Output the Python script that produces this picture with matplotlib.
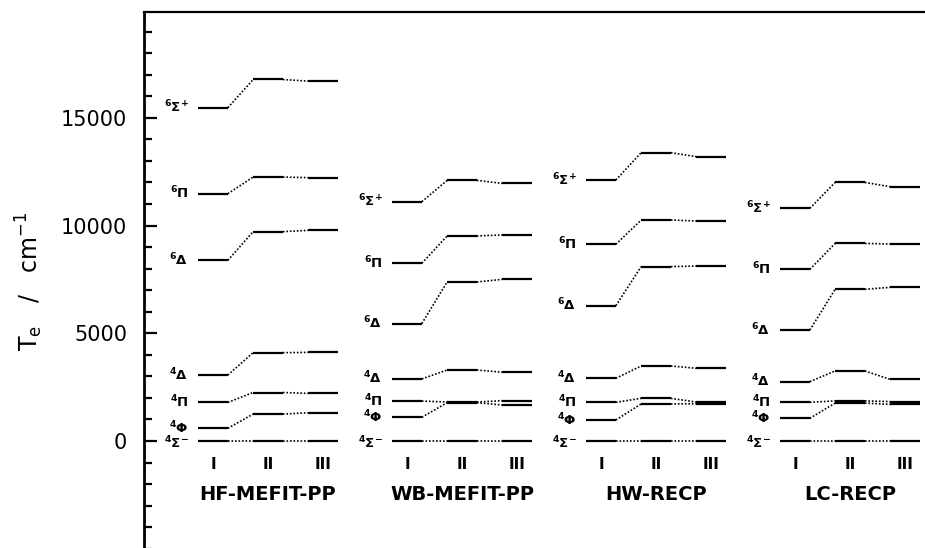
import matplotlib
matplotlib.use("Agg")
import matplotlib.pyplot as plt
from matplotlib.ticker import MultipleLocator, FixedLocator

plt.rcParams['font.family'] = ['DejaVu Sans']
plt.rcParams['mathtext.fontset'] = 'dejavusans'

# ---------------- data ----------------
methods = ['HF-MEFIT-PP', 'WB-MEFIT-PP', 'HW-RECP', 'LC-RECP']
levels = ['I', 'II', 'III']
state_labels = [r'$^{\mathbf{4}}\mathbf{\Sigma}^{\mathbf{-}}$',
                r'$^{\mathbf{4}}\mathbf{\Phi}$',
                r'$^{\mathbf{4}}\mathbf{\Pi}$',
                r'$^{\mathbf{4}}\mathbf{\Delta}$',
                r'$^{\mathbf{6}}\mathbf{\Delta}$',
                r'$^{\mathbf{6}}\mathbf{\Pi}$',
                r'$^{\mathbf{6}}\mathbf{\Sigma}^{\mathbf{+}}$']

# rows: 4Σ-, 4Φ, 4Π, 4Δ, 6Δ, 6Π, 6Σ+ ; columns: I, II, III  (Te in cm^-1)
hf_mefit_pp = [[0, 0, 0],
               [590, 1250, 1310],
               [1790, 2250, 2210],
               [3060, 4100, 4110],
               [8385, 9715, 9775],
               [11475, 12250, 12220],
               [15465, 16775, 16700]]
wb_mefit_pp = [[0, 0, 0],
               [1100, 1780, 1670],
               [1855, 1810, 1870],
               [2880, 3295, 3190],
               [5450, 7380, 7500],
               [8245, 9515, 9560],
               [11105, 12095, 11955]]
hw_recp = [[0, 0, 0],
           [975, 1720, 1730],
           [1795, 1980, 1810],
           [2910, 3480, 3375],
           [6280, 8090, 8120],
           [9125, 10255, 10210],
           [12110, 13380, 13195]]
lc_recp = [[0, 0, 0],
           [1050, 1760, 1700],
           [1795, 1860, 1830],
           [2755, 3250, 2860],
           [5150, 7040, 7130],
           [7965, 9170, 9140],
           [10795, 12000, 11800]]
all_data = [hf_mefit_pp, wb_mefit_pp, hw_recp, lc_recp]

# ---------------- layout ----------------
W, H, DPI = 925, 548, 100
fig = plt.figure(figsize=(W / DPI, H / DPI), dpi=DPI)

ymin, ymax = -5000, 19900
px_per_unit = 21.55 / 1000.0
y0_px = 441.0
top_px = y0_px - ymax * px_per_unit
bot_px = y0_px - ymin * px_per_unit
left_px, right_px = 144.0, 925.0
ax = fig.add_axes([left_px / W, 1 - bot_px / H, (right_px - left_px) / W, (bot_px - top_px) / H])

step_px = 55.0
first_px = 213.0
group_gap = 194.0 / step_px
ax.set_xlim((left_px - first_px) / step_px, (right_px - first_px) / step_px)
ax.set_ylim(ymin, ymax)

hw_seg = 0.27
for g, data in enumerate(all_data):
    xc = [g * group_gap + i for i in range(3)]
    for s, row in enumerate(data):
        for i in range(3):
            ax.plot([xc[i] - hw_seg, xc[i] + hw_seg], [row[i], row[i]],
                    color='black', lw=1.6, solid_capstyle='butt')
            if i < 2:
                ax.plot([xc[i] + hw_seg, xc[i + 1] - hw_seg], [row[i], row[i + 1]],
                        color='black', lw=1.2, linestyle=(0, (1, 1.1)))
        dy = -5.5 if s == 0 else -3.5
        ax.annotate(state_labels[s], xy=(xc[0] - hw_seg, row[0]),
                    xytext=(-7, dy), textcoords='offset points',
                    ha='right', va='baseline', fontsize=9.5)
    for i in range(3):
        ax.text(xc[i], -1110, levels[i], ha='center', va='center',
                fontsize=11, fontweight='bold')
    ax.text(xc[1], -2500, methods[g], ha='center', va='center',
            fontsize=14, fontweight='bold')

# ---------------- axes styling ----------------
ax.spines['right'].set_visible(False)
ax.spines['bottom'].set_visible(False)
ax.spines['left'].set_linewidth(2.0)
ax.spines['top'].set_linewidth(1.6)
ax.set_xticks([])
ax.yaxis.set_major_locator(FixedLocator([0, 5000, 10000, 15000]))
ax.yaxis.set_minor_locator(MultipleLocator(1000))
ax.tick_params(axis='y', which='major', direction='in', length=9, width=1.6,
               labelsize=15, pad=12)
ax.tick_params(axis='y', which='minor', direction='in', length=6, width=1.6)
ax.set_ylabel(r'$\mathregular{T_e}$   /   cm$^{\mathregular{-1}}$', fontsize=17)
ax.yaxis.set_label_coords(-99 / (right_px - left_px), (bot_px - 281) / (bot_px - top_px))

fig.savefig('out.png', dpi=DPI)
